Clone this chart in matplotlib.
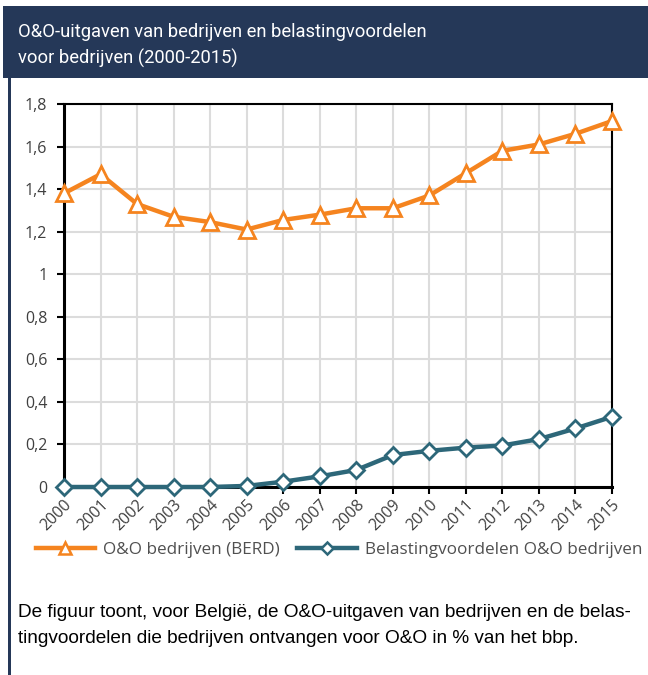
import matplotlib
matplotlib.use("Agg")
import matplotlib.pyplot as plt
from matplotlib.patches import Rectangle
from matplotlib.lines import Line2D

years = ["2000", "2001", "2002", "2003", "2004", "2005", "2006", "2007",
         "2008", "2009", "2010", "2011", "2012", "2013", "2014", "2015"]
berd = [1.38, 1.47, 1.33, 1.27, 1.245, 1.21, 1.255, 1.28,
        1.31, 1.31, 1.37, 1.475, 1.58, 1.61, 1.66, 1.72]
tax = [0.0, 0.0, 0.0, 0.0, 0.0, 0.005, 0.025, 0.05,
       0.08, 0.15, 0.17, 0.185, 0.195, 0.225, 0.275, 0.33]
yticks = [0, 0.2, 0.4, 0.6, 0.8, 1.0, 1.2, 1.4, 1.6, 1.8]
ytick_labels = ["0", "0,2", "0,4", "0,6", "0,8", "1", "1,2", "1,4", "1,6", "1,8"]
title_lines = ["O&O-uitgaven van bedrijven en belastingvoordelen",
               "voor bedrijven (2000-2015)"]
caption_lines = ["De figuur toont, voor België, de O&O-uitgaven van bedrijven en de belas-",
                 "tingvoordelen die bedrijven ontvangen voor O&O in % van het bbp."]
legend_labels = ["O&O bedrijven (BERD)", "Belastingvoordelen O&O bedrijven"]

ORANGE = "#F5841F"
TEAL = "#2D6779"
NAVY = "#253858"

W, H = 648, 675
fig = plt.figure(figsize=(W / 100, H / 100), dpi=100)
fig.patch.set_facecolor("white")

def fx(px):
    return px / W

def fy(py):
    return 1 - py / H

# header band
fig.patches.append(Rectangle((fx(3), fy(78)), fx(645), 72 / H, transform=fig.transFigure,
                             facecolor=NAVY, edgecolor="none", zorder=0))
# left border line
fig.patches.append(Rectangle((fx(8), 0), fx(3), fy(78), transform=fig.transFigure,
                             facecolor=NAVY, edgecolor="none", zorder=0))

for line, base in zip(title_lines, [37, 64]):
    fig.text(fx(18), fy(base), line, color="white", fontsize=13.2,
             family="Roboto", va="baseline", ha="left")

ax = fig.add_axes([fx(64), fy(487), fx(612 - 64), (487 - 104) / H])
x = list(range(len(years)))
ax.plot(x, berd, color=ORANGE, lw=3.2, marker="^", markersize=12,
        markerfacecolor="white", markeredgecolor=ORANGE, markeredgewidth=2,
        clip_on=False, zorder=5)
ax.plot(x, tax, color=TEAL, lw=3.2, marker="D", markersize=8.5,
        markerfacecolor="white", markeredgecolor=TEAL, markeredgewidth=2,
        clip_on=False, zorder=5)

ax.set_xlim(0, len(years) - 1)
ax.set_ylim(0, 1.8)
ax.set_yticks(yticks)
ax.set_yticklabels(ytick_labels)
ax.set_xticks(x)
ax.set_xticklabels(years, rotation=45, ha="right", rotation_mode="anchor")
ax.tick_params(axis="both", colors="black", labelcolor="#404040", labelsize=11.5,
               length=5, width=1.5, direction="out")
ax.tick_params(axis="y", pad=7)
ax.tick_params(axis="x", pad=2)
for lbl in ax.get_xticklabels() + ax.get_yticklabels():
    lbl.set_family("Open Sans")
ax.grid(True, color="#dcdcdc", lw=1.5)
ax.set_axisbelow(True)
for side in ["left", "bottom"]:
    ax.spines[side].set_linewidth(2.2)
for side in ["top", "right"]:
    ax.spines[side].set_linewidth(1.5)
for s in ax.spines.values():
    s.set_color("black")

handles = [
    Line2D([], [], color=ORANGE, lw=3.2, marker="^", markersize=8,
           markerfacecolor="white", markeredgecolor=ORANGE, markeredgewidth=1.8),
    Line2D([], [], color=TEAL, lw=3.2, marker="D", markersize=6,
           markerfacecolor="white", markeredgecolor=TEAL, markeredgewidth=1.8),
]
leg = fig.legend(handles, legend_labels, loc="center left",
                 bbox_to_anchor=(fx(27), fy(550)), ncol=2, frameon=False,
                 handlelength=3.5, handletextpad=0.47, columnspacing=1.0,
                 borderpad=0.0, prop={"family": "Open Sans", "size": 12.3})
for t in leg.get_texts():
    t.set_color("#505050")

for line, base in zip(caption_lines, [617, 643]):
    fig.text(fx(18), fy(base), line, color="black", fontsize=13.7,
             family="Liberation Sans", va="baseline", ha="left")

fig.savefig("out.png", dpi=100, facecolor="white")
